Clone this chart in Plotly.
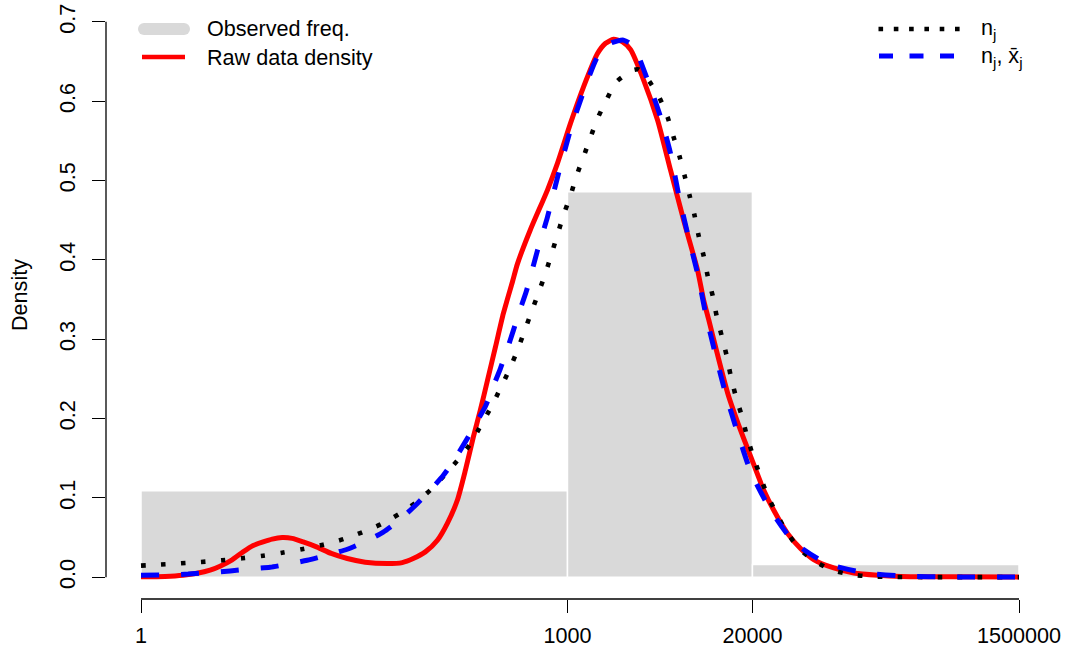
import plotly.graph_objects as go

# ---------------- data ----------------
x_tickvals = [1, 1000, 20000, 1500000]
x_ticktext = ["1", "1000", "20000", "1500000"]
y_tickvals = [0.0, 0.1, 0.2, 0.3, 0.4, 0.5, 0.6, 0.7]
y_ticktext = ["0.0", "0.1", "0.2", "0.3", "0.4", "0.5", "0.6", "0.7"]

bin_edges = [1, 1000, 20000, 1500000]
bin_heights = [0.109, 0.486, 0.016]

# Raw data density (red), x given as log10(x)
raw_log10x = [0.000, 0.169, 0.296, 0.394, 0.486, 0.556, 0.641, 0.718, 0.789, 0.859,
              0.923, 0.993, 1.063, 1.141, 1.239, 1.338, 1.451, 1.577, 1.732, 1.838,
              1.915, 2.000, 2.085, 2.155, 2.225, 2.282, 2.338, 2.387, 2.437, 2.493,
              2.549, 2.613, 2.648, 2.739, 2.859, 2.930, 3.021, 3.113, 3.211, 3.268,
              3.324, 3.387, 3.444, 3.535, 3.634, 3.725, 3.817, 3.915, 3.958, 3.993,
              4.042, 4.127, 4.218, 4.289, 4.380, 4.451, 4.549, 4.641, 4.732, 4.873,
              5.014, 5.183, 5.345, 5.697, 6.176]
raw_density = [0.0005, 0.001, 0.0025, 0.005, 0.009, 0.014, 0.022, 0.032, 0.040, 0.0445,
               0.048, 0.050, 0.049, 0.0445, 0.038, 0.030, 0.0236, 0.019, 0.0173, 0.0185,
               0.0236, 0.032, 0.0467, 0.068, 0.097, 0.135, 0.177, 0.2106, 0.248, 0.290,
               0.3325, 0.3725, 0.395, 0.438, 0.488, 0.522, 0.572, 0.618, 0.660, 0.673,
               0.678, 0.675, 0.665, 0.627, 0.576, 0.513, 0.450, 0.387, 0.349, 0.325,
               0.290, 0.232, 0.185, 0.152, 0.110, 0.0845, 0.055, 0.036, 0.0223, 0.0117,
               0.0054, 0.0025, 0.001, 0.0005, 0.0003]

# n_j (black dotted)
nj_log10x = [0.000, 0.141, 0.282, 0.423, 0.570, 0.711, 0.859, 0.993, 1.141, 1.282,
             1.423, 1.556, 1.690, 1.817, 1.937, 2.042, 2.141, 2.239, 2.324, 2.394,
             2.465, 2.528, 2.592, 2.648, 2.697, 2.746, 2.796, 2.845, 2.887, 2.930,
             2.972, 3.021, 3.063, 3.113, 3.162, 3.211, 3.275, 3.345, 3.458, 3.500,
             3.577, 3.648, 3.704, 3.746, 3.789, 3.824, 3.859, 3.894, 3.923, 3.958,
             3.986, 4.021, 4.049, 4.085, 4.120, 4.148, 4.183, 4.225, 4.261, 4.303,
             4.352, 4.401, 4.465, 4.535, 4.620, 4.725, 4.852, 4.993, 5.134, 5.282,
             5.570, 6.176]
nj_density = [0.0147, 0.016, 0.0176, 0.0193, 0.0214, 0.024, 0.0272, 0.031, 0.0357, 0.041,
              0.048, 0.0567, 0.067, 0.080, 0.0946, 0.111, 0.130, 0.150, 0.170, 0.1925,
              0.215, 0.238, 0.262, 0.286, 0.310, 0.334, 0.3585, 0.383, 0.407, 0.432,
              0.4565, 0.481, 0.5057, 0.530, 0.5545, 0.578, 0.602, 0.6246, 0.639, 0.640,
              0.6246, 0.604, 0.580, 0.555, 0.530, 0.506, 0.481, 0.456, 0.430, 0.405,
              0.380, 0.355, 0.3295, 0.304, 0.279, 0.254, 0.2286, 0.204, 0.179, 0.154,
              0.1295, 0.1055, 0.082, 0.0593, 0.038, 0.0218, 0.0097, 0.0034, 0.001, 0.0004,
              0.0002, 0.0001]

# n_j, xbar_j (blue dashed)
njx_log10x = [0.000, 0.183, 0.331, 0.486, 0.627, 0.768, 0.908, 1.049, 1.169, 1.310,
              1.451, 1.577, 1.704, 1.824, 1.944, 2.035, 2.127, 2.211, 2.296, 2.359,
              2.423, 2.472, 2.528, 2.577, 2.620, 2.662, 2.711, 2.789, 2.859, 2.937,
              3.021, 3.113, 3.211, 3.303, 3.394, 3.465, 3.563, 3.655, 3.725, 3.782,
              3.845, 3.915, 3.972, 4.042, 4.113, 4.197, 4.289, 4.423, 4.592, 4.824,
              5.099, 5.394, 5.676, 6.176]
njx_density = [0.0025, 0.003, 0.004, 0.006, 0.008, 0.0105, 0.0126, 0.017, 0.0214, 0.028,
               0.0353, 0.045, 0.057, 0.073, 0.093, 0.110, 0.1286, 0.150, 0.175, 0.195,
               0.2156, 0.238, 0.263, 0.288, 0.3115, 0.335, 0.3607, 0.412, 0.454, 0.509,
               0.5637, 0.612, 0.656, 0.673, 0.677, 0.669, 0.627, 0.580, 0.534, 0.482,
               0.433, 0.383, 0.332, 0.280, 0.2308, 0.182, 0.133, 0.0866, 0.0445, 0.0173,
               0.0054, 0.0013, 0.0004, 0.0002]

legend_left = ["Observed freq.", "Raw data density"]
legend_right = ["n<sub>j</sub>", "n<sub>j</sub>, x\u0304<sub>j</sub>"]

# ---------------- styling ----------------
FONT = "Liberation Sans, Arial, Helvetica, sans-serif"
FS = 21.6
BAR_COL = "#D9D9D9"
RED = "#FF0000"
BLUE = "#0000FF"

W, H = 1068, 652
ML, MR, MT, MB = 106, 14, 16, 53
PW, PH = W - ML - MR, H - MT - MB
XR = [-0.2462, 6.4223]
YR = [-0.0274, 0.7074]


def px_x(p):
    return (p - ML) / PW


def px_y(p):
    return (H - MB - p) / PH


def log_to_paper(v):
    import math
    return (math.log10(v) - XR[0]) / (XR[1] - XR[0])


fig = go.Figure()

# histogram bars
for i, h in enumerate(bin_heights):
    x0, x1 = bin_edges[i], bin_edges[i + 1]
    fig.add_trace(go.Scatter(
        x=[x0, x0, x1, x1, x0], y=[0, h, h, 0, 0],
        mode="lines", fill="toself", fillcolor=BAR_COL,
        line=dict(color="white", width=1.5), hoverinfo="skip", showlegend=False))

fig.add_trace(go.Scatter(
    x=[10 ** v for v in raw_log10x], y=raw_density, mode="lines",
    line=dict(color=RED, width=5, shape="spline", smoothing=0.6), showlegend=False))
fig.add_trace(go.Scatter(
    x=[10 ** v for v in nj_log10x], y=nj_density, mode="lines",
    line=dict(color="black", width=4.6, dash="4.6px,15.4px", shape="spline", smoothing=0.6),
    showlegend=False))
fig.add_trace(go.Scatter(
    x=[10 ** v for v in njx_log10x], y=njx_density, mode="lines",
    line=dict(color=BLUE, width=5, dash="18px,22px", shape="spline", smoothing=0.6),
    showlegend=False))

shapes = []
# axis lines (R style: from first to last tick)
shapes.append(dict(type="line", xref="paper", yref="paper",
                   x0=log_to_paper(x_tickvals[0]), x1=log_to_paper(x_tickvals[-1]),
                   y0=0, y1=0, line=dict(color="black", width=1.3)))
shapes.append(dict(type="line", xref="paper", yref="y", x0=0, x1=0,
                   y0=y_tickvals[0], y1=y_tickvals[-1], line=dict(color="black", width=1.3)))

# legend samples (left)
shapes.append(dict(type="line", xref="paper", yref="paper", x0=px_x(144), x1=px_x(184),
                   y0=px_y(29), y1=px_y(29), line=dict(color=BAR_COL, width=12)))
for cx in (144, 184):
    shapes.append(dict(type="circle", xref="paper", yref="paper",
                       x0=px_x(cx - 6), x1=px_x(cx + 6), y0=px_y(35), y1=px_y(23),
                       fillcolor=BAR_COL, line=dict(width=0)))
shapes.append(dict(type="line", xref="paper", yref="paper", x0=px_x(142), x1=px_x(185),
                   y0=px_y(57), y1=px_y(57), line=dict(color=RED, width=4.7)))
# legend samples (right)
shapes.append(dict(type="line", xref="paper", yref="paper", x0=px_x(878.5), x1=px_x(962),
                   y0=px_y(29), y1=px_y(29), line=dict(color="black", width=4.6, dash="4.6px,10.7px")))
shapes.append(dict(type="line", xref="paper", yref="paper", x0=px_x(879), x1=px_x(956),
                   y0=px_y(56), y1=px_y(56), line=dict(color=BLUE, width=5, dash="14px,16.5px")))

annotations = []
for txt, yy in zip(legend_left, (29, 57)):
    annotations.append(dict(text=txt, xref="paper", yref="paper", x=px_x(205), y=px_y(yy),
                            xanchor="left", yanchor="middle", showarrow=False,
                            font=dict(family=FONT, size=FS, color="black")))
for txt, yy in zip(legend_right, (29, 57)):
    annotations.append(dict(text=txt, xref="paper", yref="paper", x=px_x(979), y=px_y(yy),
                            xanchor="left", yanchor="middle", showarrow=False,
                            font=dict(family=FONT, size=FS, color="black")))
annotations.append(dict(text="Density", xref="paper", yref="paper", x=px_x(19), y=px_y(295),
                        xanchor="center", yanchor="middle", textangle=-90, showarrow=False,
                        font=dict(family=FONT, size=FS, color="black")))

fig.update_layout(
    width=W, height=H, margin=dict(l=ML, r=MR, t=MT, b=MB, pad=0, autoexpand=False),
    paper_bgcolor="white", plot_bgcolor="white",
    font=dict(family=FONT, size=FS, color="black"),
    shapes=shapes, annotations=annotations, showlegend=False,
    xaxis=dict(type="log", range=XR, tickvals=x_tickvals, ticktext=x_ticktext,
               ticks="outside", ticklen=13, tickwidth=1.3, tickcolor="black",
               ticklabelstandoff=4,
               showgrid=False, zeroline=False, showline=False, automargin=False,
               tickfont=dict(family=FONT, size=FS, color="black")),
    yaxis=dict(range=YR, tickvals=y_tickvals, ticktext=y_ticktext, tickangle=-90,
               ticks="outside", ticklen=13, tickwidth=1.3, tickcolor="black",
               ticklabelstandoff=8,
               showgrid=False, zeroline=False, showline=False, automargin=False,
               tickfont=dict(family=FONT, size=FS, color="black")),
)

fig.write_html(
    "out.html",
    config={"displayModeBar": False},
    post_script="document.body.style.margin='0px';document.body.style.overflow='hidden';",
)
